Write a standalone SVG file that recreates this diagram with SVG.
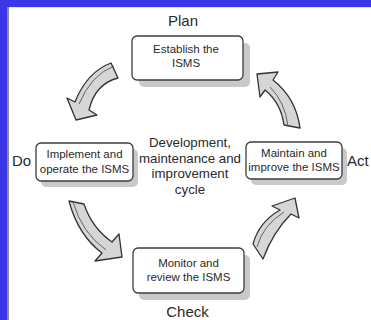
<svg xmlns="http://www.w3.org/2000/svg" width="371" height="320" viewBox="0 0 371 320">
<style>
.lbl{font-family:"Liberation Sans",Arial,sans-serif;font-size:15px;fill:#2a2a2a}
.ctr{font-family:"Liberation Sans",Arial,sans-serif;font-size:13.3px;fill:#2a2a2a;text-anchor:middle}
.bt{font-family:"Liberation Sans",Arial,sans-serif;font-size:11.5px;fill:#2a2a2a;text-anchor:middle}
.box{fill:#fff;stroke:#3c3c3c;stroke-width:1.3}
.sh{fill:#c9c9c9}
.arr{fill:#d6d6d6;stroke:#333;stroke-width:1.3;stroke-linejoin:round}
.arl{fill:none;stroke:#555;stroke-width:0.9}
</style>
<rect x="0" y="0" width="371" height="320" fill="#fff"/>
<rect x="0" y="0" width="371" height="7" fill="#3b36e6"/>
<rect x="0" y="0" width="7" height="320" fill="#3b36e6"/>
<rect x="7" y="7" width="2" height="313" fill="#8a8a8a"/>
<rect x="9" y="7" width="362" height="1" fill="#e2e2e2"/>

<text class="lbl" x="183" y="26" text-anchor="middle">Plan</text>
<text class="lbl" x="12" y="166">Do</text>
<text class="lbl" x="347" y="166">Act</text>
<text class="lbl" x="187.5" y="316.5" text-anchor="middle">Check</text>

<g id="center-text">
<text class="ctr" x="190" y="147">Development,</text>
<text class="ctr" x="190" y="162.5">maintenance and</text>
<text class="ctr" x="190" y="178">improvement</text>
<text class="ctr" x="190" y="193.5">cycle</text>
</g>

<g id="plan">
<rect class="sh" x="139" y="43" width="111" height="44" rx="5"/>
<rect class="box" x="132" y="36" width="111" height="44" rx="5"/>
<text class="bt" x="186" y="53">Establish the</text>
<text class="bt" x="186" y="67">ISMS</text>
</g>
<g id="do">
<rect class="sh" x="41" y="149" width="97" height="38" rx="5"/>
<rect class="box" x="36" y="143" width="97" height="38" rx="5"/>
<text class="bt" x="84.5" y="157.5">Implement and</text>
<text class="bt" x="84.5" y="172.5">operate the ISMS</text>
</g>
<g id="act">
<rect class="sh" x="251" y="148" width="96" height="37" rx="5"/>
<rect class="box" x="246" y="142" width="96" height="37" rx="5"/>
<text class="bt" x="294" y="156.5">Maintain and</text>
<text class="bt" x="294" y="170.5">improve the ISMS</text>
</g>
<g id="check">
<rect class="sh" x="139" y="255" width="111" height="45" rx="5"/>
<rect class="box" x="133" y="248" width="111" height="45" rx="5"/>
<text class="bt" x="188.5" y="266.5">Monitor and</text>
<text class="bt" x="188.5" y="280.5">review the ISMS</text>
</g>

<g id="connectors">
<path class="arr" d="M111,63 Q87,72 75,102 L67,98 L76,120 L97,115 L89,110 Q95,84 118,78 Z"/>
<path class="arl" d="M114,66 Q91,75 79,104"/>
<path class="arr" d="M284,125 Q281,103 265,90 L260,97 L257,74 L278,72 L273,80 Q296,98 300,128 Z"/>
<path class="arl" d="M288,126 Q285,102 270,87"/>
<path class="arr" d="M69,201 Q78,235 102,253 L95,261 L122,257 L119,234 L112,242 Q92,228 84,204 Z"/>
<path class="arl" d="M73,202 Q82,233 106,250"/>
<path class="arr" d="M253,244 Q259,222 280,210 L272,206 L295,198 L299,218 L291,214 Q273,232 263,259 Z"/>
<path class="arl" d="M257,247 Q263,225 284,212"/>
</g>
</svg>
